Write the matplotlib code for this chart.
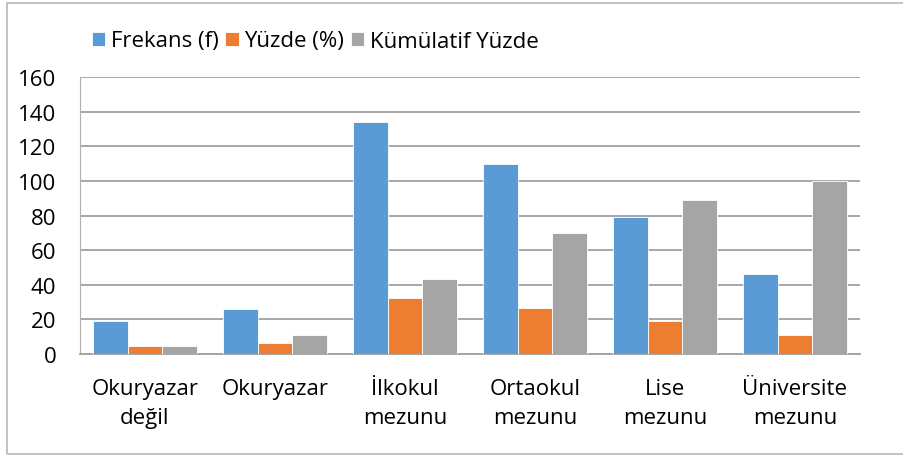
import numpy as np
import matplotlib
matplotlib.use("Agg")
import matplotlib.pyplot as plt
from matplotlib.patches import Rectangle

plt.rcParams['font.family'] = ['Open Sans', 'DejaVu Sans']

categories = ["Okuryazar\ndeğil", "Okuryazar", "İlkokul\nmezunu",
              "Ortaokul\nmezunu", "Lise\nmezunu", "Üniversite\nmezunu"]
frekans = [19, 26, 134, 110, 79, 46]
yuzde = [4.6, 6.3, 32.4, 26.6, 19.1, 11.1]
kumulatif = [4.6, 10.9, 43.2, 69.8, 88.9, 100.0]
series_names = ["Frekans (f)", "Yüzde (%)", "Kümülatif Yüzde"]
colors = ["#5b9bd5", "#ed7d31", "#a5a5a5"]

fig = plt.figure(figsize=(9.04, 4.56), dpi=100)
ax = fig.add_axes([80 / 904, 1 - 355 / 456, 780 / 904, 277 / 456])

x = np.arange(len(categories))
w = 0.8 / 3
for i, (vals, name, c) in enumerate(zip([frekans, yuzde, kumulatif], series_names, colors)):
    ax.bar(x + (i - 1) * w, vals, w, color=c, label=name,
           edgecolor="white", linewidth=0.6, zorder=3)

ax.set_xlim(-0.5, len(categories) - 0.5)
ax.set_ylim(0, 160)
ax.set_yticks(range(0, 161, 20))
ax.yaxis.grid(True, color="#a0a0a0", linewidth=1.3, zorder=0)
ax.set_axisbelow(True)
for s in ["top", "right"]:
    ax.spines[s].set_visible(False)
ax.spines["left"].set_color("#b0b0b0")
ax.spines["bottom"].set_color("#a0a0a0")
ax.spines["bottom"].set_linewidth(1.3)
ax.tick_params(length=0, labelsize=16, colors="black")
ax.tick_params(axis="y", pad=17)
ax.tick_params(axis="x", pad=17)
ax.set_xticks(x)
ax.set_xticklabels(categories, linespacing=1.5)

fig.legend(loc="center left", bbox_to_anchor=(92 / 904, 1 - 42 / 456), ncol=3, frameon=False,
           fontsize=16, handlelength=0.6, handleheight=0.6, handletextpad=0.25,
           columnspacing=0.3, borderaxespad=0, borderpad=0)

fig.patches.append(Rectangle((7 / 904, 0.002), 0.995, 0.99, transform=fig.transFigure,
                             fill=False, edgecolor="#b8b8b8", linewidth=1.2))

fig.savefig("out.png", dpi=100)
